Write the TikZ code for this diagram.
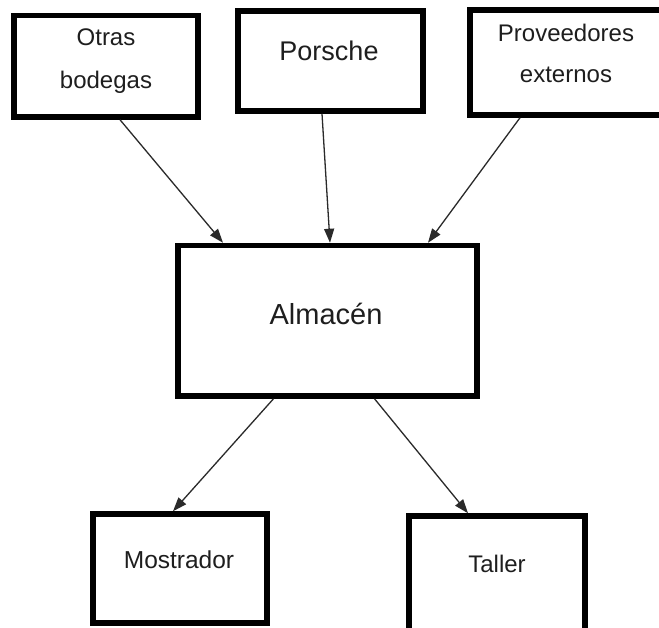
\documentclass[tikz,border=0pt]{standalone}
\usepackage{fontspec}
\setmainfont{Liberation Sans}
\usetikzlibrary{arrows.meta}
\definecolor{txt}{HTML}{1E1E1E}
\definecolor{arrcol}{HTML}{2A2A2A}
\tikzset{
  box/.style={draw=black, line width=5.5pt, rectangle, inner sep=0pt, fill=white},
  lbl/.style={anchor=base, inner sep=0pt, text=txt},
  arr/.style={draw=arrcol, line width=1.3pt, -{Triangle[length=14pt,width=10pt]}}
}
\begin{document}
\begin{tikzpicture}[x=1pt,y=-1pt]
\useasboundingbox (0,0) rectangle (659,627);
\clip (0,0) rectangle (659,627);
\fill[white] (0,0) rectangle (659,627);

% boxes
\node[box, minimum width=184pt, minimum height=101.5pt] (otras) at (106,66.25) {};
\node[box, minimum width=185pt, minimum height=100pt] (porsche) at (330.5,61) {};
\node[box, minimum width=192pt, minimum height=105pt] (prov) at (566,62.5) {};
\node[box, minimum width=299pt, minimum height=150.5pt] (alm) at (327.5,320.75) {};
\node[box, minimum width=174pt, minimum height=109pt] (most) at (180,568.5) {};
\node[box, minimum width=176pt, minimum height=120pt] (taller) at (497,576) {};

% texts
\node[lbl, font=\fontsize{24}{28}\selectfont] (t1a) at (106,45) {Otras};
\node[lbl, font=\fontsize{24}{28}\selectfont] (t1b) at (106,88) {bodegas};
\node[lbl, font=\fontsize{27}{32}\selectfont] (t2) at (329,60) {Porsche};
\node[lbl, font=\fontsize{24}{28}\selectfont] (t3a) at (566,41) {Proveedores};
\node[lbl, font=\fontsize{24}{28}\selectfont] (t3b) at (566,82) {externos};
\node[lbl, font=\fontsize{29}{34}\selectfont] (t4) at (326,324) {Almacén};
\node[lbl, font=\fontsize{24.5}{29}\selectfont] (t5) at (179,568) {Mostrador};
\node[lbl, font=\fontsize{24}{28}\selectfont] (t6) at (497,572) {Taller};

% connectors
\draw[arr] ([xshift=14pt]otras.south) -- ([xshift=-104.5pt]alm.north);
\draw[arr] ([xshift=-8.5pt]porsche.south) -- ([xshift=2.5pt]alm.north);
\draw[arr] ([xshift=-46pt]prov.south) -- ([xshift=100.5pt]alm.north);
\draw[arr] ([xshift=-54pt]alm.south) -- ([xshift=-7pt]most.north);
\draw[arr] ([xshift=47pt]alm.south) -- ([xshift=-29pt]taller.north);
\end{tikzpicture}
\end{document}
